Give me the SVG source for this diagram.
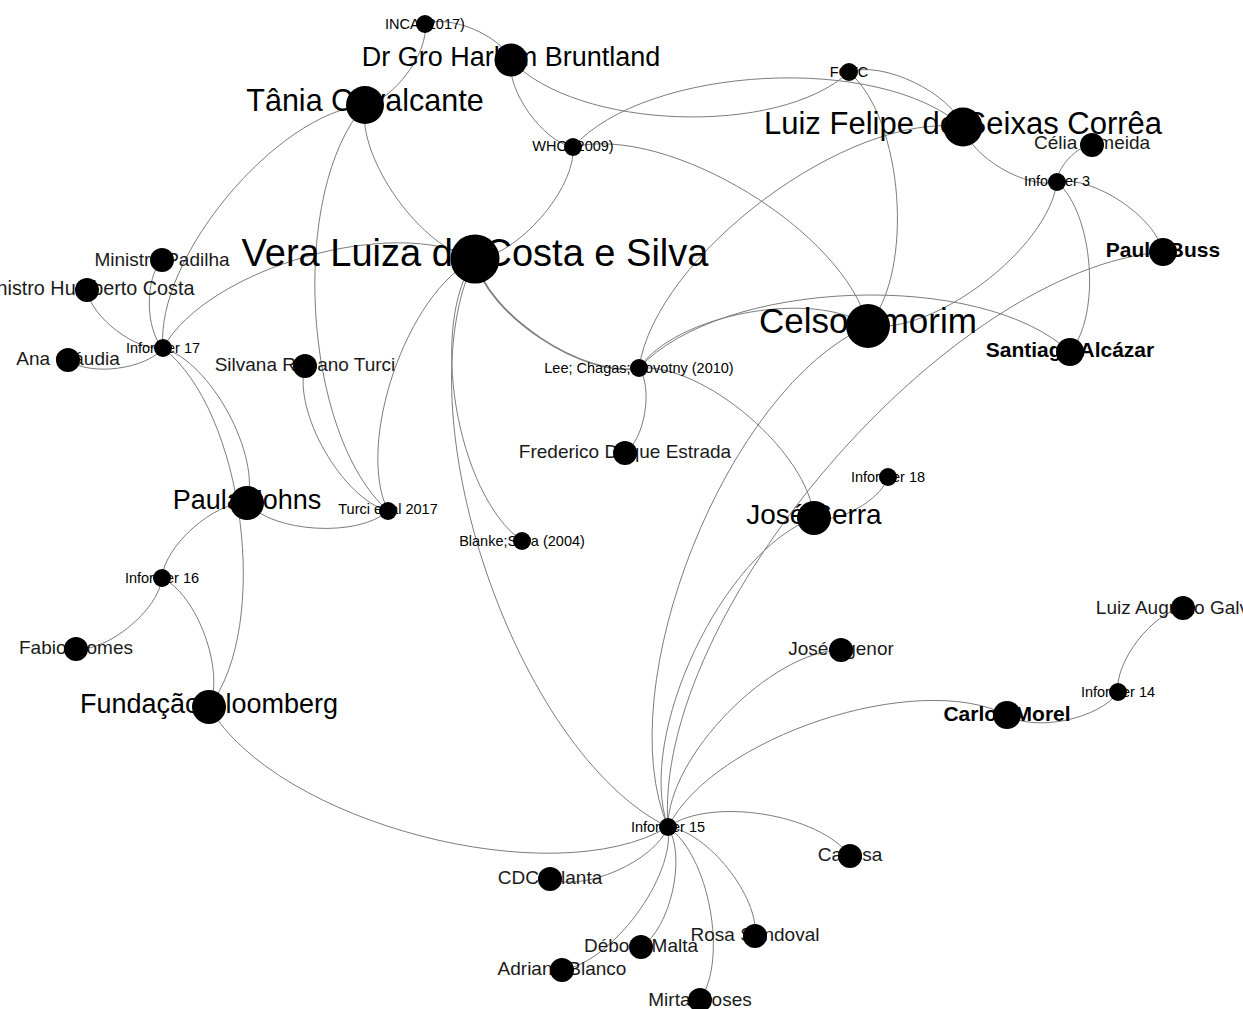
<svg xmlns="http://www.w3.org/2000/svg" width="1243" height="1009" viewBox="0 0 1243 1009">
  <style>
    .edge { fill: none; stroke: #7c7c7c; stroke-width: 1; }
    .heavy { stroke-width: 1.7; }
    .node { fill: #000; }
    .lbl { font-family: "Liberation Sans", Arial, sans-serif; text-anchor: middle; fill: #000; }
    .s { font-size: 14.5px; }
    .m { font-size: 19px; fill: #1a1a1a; }
    .b { font-size: 21px; font-weight: bold; }
  </style>
  <rect width="1243" height="1009" fill="#fff"/>

  <!-- curved edges: cubic beziers, control points offset 0.2*length along the normal -->
  <g id="edges">
    <path class="edge" d="M425,24 C449.4,14 501,35.6 511,60"/>
    <path class="edge" d="M425,24 C429.2,52.2 393.2,100.8 365,105"/>
    <path class="edge" d="M573,147 C543.2,142 506,89.8 511,60"/>
    <path class="edge" d="M849,72 C779,137.2 576.2,130 511,60"/>
    <path class="edge" d="M573,147 C647,65 881,53 963,127"/>
    <path class="edge" d="M849,72 C882.8,60.2 951.2,93.2 963,127"/>
    <path class="edge" d="M849,72 C903.6,119 915,271.4 868,326"/>
    <path class="edge" d="M573,147 C667.8,123.8 844.8,231.2 868,326"/>
    <path class="edge" d="M573,147 C575.8,189 517,256.2 475,259"/>
    <path class="edge" d="M475,259 C422.2,250.2 356.2,157.8 365,105"/>
    <path class="edge" d="M163,348 C154.8,259 276,113.2 365,105"/>
    <path class="edge" d="M388,511 C302.2,434.4 288.4,190.8 365,105"/>
    <path class="edge" d="M388,511 C342.4,498.6 292.6,411.6 305,366"/>
    <path class="edge" d="M388,511 C355,443.2 407.2,292 475,259"/>
    <path class="edge" d="M163,348 C207.6,267.8 394.8,214.4 475,259"/>
    <path class="edge" d="M522,541 C456.2,494 428,324.8 475,259"/>
    <path class="edge" d="M668,827 C515.8,752 400,411.2 475,259"/>
    <path class="edge heavy" d="M639,368 C584.4,379 486,313.6 475,259"/>
    <path class="edge" d="M639,368 C722,278.6 980.6,269 1070,352"/>
    <path class="edge" d="M639,368 C676.4,313.8 813.8,288.6 868,326"/>
    <path class="edge" d="M639,368 C655.6,255 850,110.4 963,127"/>
    <path class="edge" d="M639,368 C653.2,387.8 644.8,438.8 625,453"/>
    <path class="edge" d="M639,368 C704,363 809,453 814,518"/>
    <path class="edge" d="M1057,182 C1027.2,189.8 970.8,156.8 963,127"/>
    <path class="edge" d="M1057,182 C1056.6,167.6 1077.6,145.4 1092,145"/>
    <path class="edge" d="M1057,182 C1092.2,174.8 1155.8,216.8 1163,252"/>
    <path class="edge" d="M1057,182 C1093.6,213.4 1101.4,315.4 1070,352"/>
    <path class="edge" d="M1057,182 C1048,248.6 934.6,335 868,326"/>
    <path class="edge" d="M668,827 C652,613 949,268 1163,252"/>
    <path class="edge" d="M668,827 C607.8,686.8 727.8,386.2 868,326"/>
    <path class="edge" d="M668,827 C635.4,736 723,550.6 814,518"/>
    <path class="edge" d="M888,477 C881.4,500 837,524.6 814,518"/>
    <path class="edge" d="M668,827 C667.2,757 771,650.8 841,650"/>
    <path class="edge" d="M668,827 C713.4,736.8 916.8,669.6 1007,715"/>
    <path class="edge" d="M1118,692 C1100.4,718.8 1033.8,732.6 1007,715"/>
    <path class="edge" d="M1118,692 C1114.2,662.2 1153.2,611.8 1183,608"/>
    <path class="edge" d="M668,827 C710.2,796.4 819.4,813.8 850,856"/>
    <path class="edge" d="M668,827 C707.2,831.4 759.4,896.8 755,936"/>
    <path class="edge" d="M668,827 C709,855.2 728.2,959 700,1000"/>
    <path class="edge" d="M668,827 C686.6,856.4 670.4,928.4 641,947"/>
    <path class="edge" d="M668,827 C675.4,876.8 611.8,962.6 562,970"/>
    <path class="edge" d="M668,827 C654.8,861 584,892.2 550,879"/>
    <path class="edge" d="M668,827 C552.2,894.8 276.8,822.8 209,707"/>
    <path class="edge" d="M163,348 C244,410.6 271.6,626 209,707"/>
    <path class="edge" d="M163,348 C210.8,362.2 261.2,455.2 247,503"/>
    <path class="edge" d="M388,511 C358.2,537.6 273.6,532.8 247,503"/>
    <path class="edge" d="M162,578 C164,546 215,501 247,503"/>
    <path class="edge" d="M162,578 C197.2,594.4 225.4,671.8 209,707"/>
    <path class="edge" d="M162,578 C159,609.4 107.4,652 76,649"/>
    <path class="edge" d="M163,348 C145.2,330.6 144.6,277.8 162,260"/>
    <path class="edge" d="M163,348 C136.2,351.6 90.6,316.8 87,290"/>
    <path class="edge" d="M163,348 C146.4,369.4 89.4,376.6 68,360"/>
  </g>

  <!-- nodes: label first, disc drawn over it -->
  <g id="node-inca"><text class="lbl s" x="425" y="28.5">INCA (2017)</text><circle class="node" cx="425" cy="24" r="9"/></g>
  <g id="node-bruntland"><text class="lbl" font-size="27" x="511" y="66">Dr Gro Harlem Bruntland</text><circle class="node" cx="511" cy="60" r="16.5"/></g>
  <g id="node-tania"><text class="lbl" font-size="30.5" x="365" y="111">Tânia Cavalcante</text><circle class="node" cx="365" cy="105" r="19"/></g>
  <g id="node-who"><text class="lbl s" x="573" y="151">WHO (2009)</text><circle class="node" cx="573" cy="147" r="9"/></g>
  <g id="node-fctc"><text class="lbl s" x="849" y="76.5">FCTC</text><circle class="node" cx="849" cy="72" r="9"/></g>
  <g id="node-luizfelipe"><text class="lbl" font-size="31" x="963" y="134">Luiz Felipe de Seixas Corrêa</text><circle class="node" cx="963" cy="127" r="19.5"/></g>
  <g id="node-celia"><text class="lbl m" x="1092" y="149">Célia Almeida</text><circle class="node" cx="1092" cy="145" r="12"/></g>
  <g id="node-informer3"><text class="lbl s" x="1057" y="186">Informer 3</text><circle class="node" cx="1057" cy="182" r="9"/></g>
  <g id="node-paulobuss"><text class="lbl b" x="1163" y="257">Paulo Buss</text><circle class="node" cx="1163" cy="252" r="14"/></g>
  <g id="node-vera"><text class="lbl" font-size="38" x="475" y="265.5">Vera Luiza da Costa e Silva</text><circle class="node" cx="475" cy="259" r="24.5"/></g>
  <g id="node-celso"><text class="lbl" font-size="35" x="868" y="333">Celso Amorim</text><circle class="node" cx="868" cy="326" r="22"/></g>
  <g id="node-santiago"><text class="lbl b" x="1070" y="357">Santiago Alcázar</text><circle class="node" cx="1070" cy="352" r="14"/></g>
  <g id="node-lee"><text class="lbl s" x="639" y="372.5">Lee; Chagas; Novotny (2010)</text><circle class="node" cx="639" cy="368" r="9"/></g>
  <g id="node-frederico"><text class="lbl m" x="625" y="458">Frederico Duque Estrada</text><circle class="node" cx="625" cy="453" r="12"/></g>
  <g id="node-informer18"><text class="lbl s" x="888" y="481.5">Informer 18</text><circle class="node" cx="888" cy="477" r="9"/></g>
  <g id="node-joseserra"><text class="lbl" font-size="28" x="814" y="524">José Serra</text><circle class="node" cx="814" cy="518" r="17"/></g>
  <g id="node-blanke"><text class="lbl s" x="522" y="545.5">Blanke;Silva (2004)</text><circle class="node" cx="522" cy="541" r="9"/></g>
  <g id="node-turci2017"><text class="lbl s" x="388" y="513.5">Turci et al 2017</text><circle class="node" cx="388" cy="511" r="9"/></g>
  <g id="node-silvana"><text class="lbl m" x="305" y="371">Silvana Rubano Turci</text><circle class="node" cx="305" cy="366" r="12"/></g>
  <g id="node-padilha"><text class="lbl m" x="162" y="265.5">Ministro Padilha</text><circle class="node" cx="162" cy="260" r="12"/></g>
  <g id="node-humberto"><text class="lbl m" style="font-size:19.8px" x="85" y="295">Ministro Humberto Costa</text><circle class="node" cx="87" cy="290" r="12"/></g>
  <g id="node-informer17"><text class="lbl s" x="163" y="352.5">Informer 17</text><circle class="node" cx="163" cy="348" r="9"/></g>
  <g id="node-ana"><text class="lbl m" x="68" y="365">Ana Cláudia</text><circle class="node" cx="68" cy="360" r="12"/></g>
  <g id="node-paulajohns"><text class="lbl" font-size="27" x="247" y="509">Paula Johns</text><circle class="node" cx="247" cy="503" r="17"/></g>
  <g id="node-informer16"><text class="lbl s" x="162" y="582.5">Informer 16</text><circle class="node" cx="162" cy="578" r="9"/></g>
  <g id="node-fabio"><text class="lbl m" x="76" y="654">Fabio Gomes</text><circle class="node" cx="76" cy="649" r="12"/></g>
  <g id="node-bloomberg"><text class="lbl" font-size="27" x="209" y="713">Fundação Bloomberg</text><circle class="node" cx="209" cy="707" r="17"/></g>
  <g id="node-joseagenor"><text class="lbl m" x="841" y="655">José Agenor</text><circle class="node" cx="841" cy="650" r="12"/></g>
  <g id="node-luizaugusto"><text class="lbl m" x="1183" y="614">Luiz Augusto Galvão</text><circle class="node" cx="1183" cy="608" r="12"/></g>
  <g id="node-informer14"><text class="lbl s" x="1118" y="696.5">Informer 14</text><circle class="node" cx="1118" cy="692" r="9"/></g>
  <g id="node-carlosmorel"><text class="lbl b" x="1007" y="721">Carlos Morel</text><circle class="node" cx="1007" cy="715" r="14"/></g>
  <g id="node-informer15"><text class="lbl s" x="668" y="831.5">Informer 15</text><circle class="node" cx="668" cy="827" r="9"/></g>
  <g id="node-carissa"><text class="lbl m" x="850" y="861">Carissa</text><circle class="node" cx="850" cy="856" r="12"/></g>
  <g id="node-cdc"><text class="lbl m" x="550" y="884">CDC Atlanta</text><circle class="node" cx="550" cy="879" r="12"/></g>
  <g id="node-rosa"><text class="lbl m" x="755" y="940.5">Rosa Sandoval</text><circle class="node" cx="755" cy="936" r="12"/></g>
  <g id="node-debora"><text class="lbl m" x="641" y="952">Débora Malta</text><circle class="node" cx="641" cy="947" r="12"/></g>
  <g id="node-adriana"><text class="lbl m" x="562" y="975">Adriana Blanco</text><circle class="node" cx="562" cy="970" r="12"/></g>
  <g id="node-mirta"><text class="lbl m" x="700" y="1006">Mirta Moses</text><circle class="node" cx="700" cy="1000" r="12"/></g>
</svg>
